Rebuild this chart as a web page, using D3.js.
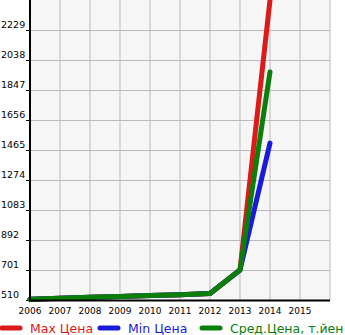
<!DOCTYPE html>
<html>
<head>
<meta charset="utf-8">
<script src="https://cdn.jsdelivr.net/npm/d3@7"></script>
<style>
  body { margin: 0; background: #fff; }
  svg { display: block; font-family: "DejaVu Sans", sans-serif; }
</style>
</head>
<body>
<svg id="chart"></svg>
<script>
// chart size
var width = 345;
var height = 335;
var plotLeft = 30, plotRight = 330, plotTop = 0, plotBottom = 300;

// data
var years = [2006, 2007, 2008, 2009, 2010, 2011, 2012, 2013, 2014];
var maxPrice = [515, 521, 527, 532, 538, 544, 551, 701, 2420];
var minPrice = [515, 521, 527, 532, 538, 544, 551, 701, 1509];
var avgPrice = [515, 521, 527, 532, 538, 544, 551, 701, 1962];
var yTicks = [510, 701, 892, 1083, 1274, 1465, 1656, 1847, 2038, 2229];
var xTicks = [2006, 2007, 2008, 2009, 2010, 2011, 2012, 2013, 2014, 2015];
var legendNames = ['Max Цена', 'Min Цена', 'Сред.Цена, т.йен'];
var colors = ['#dd1a1a', '#1a1add', '#0a800a'];

var x = d3.scaleLinear().domain([2006, 2016]).range([plotLeft, plotRight]);
var y = d3.scaleLinear().domain([510, 2420]).range([plotBottom, plotTop]);

var svg = d3.select('#chart').attr('width', width).attr('height', height);

svg.append('rect')
  .attr('x', plotLeft).attr('y', plotTop)
  .attr('width', plotRight - plotLeft).attr('height', plotBottom - plotTop)
  .attr('fill', '#f6f6f6');

// grid
svg.append('g').selectAll('line')
  .data(d3.range(2007, 2017))
  .enter().append('line')
    .attr('x1', d => x(d)).attr('x2', d => x(d))
    .attr('y1', plotTop).attr('y2', plotBottom)
    .attr('stroke', '#bbb').attr('stroke-width', 1);

svg.append('g').selectAll('line')
  .data(yTicks.slice(1))
  .enter().append('line')
    .attr('x1', plotLeft).attr('x2', plotRight)
    .attr('y1', d => y(d) + 0.5).attr('y2', d => y(d) + 0.5)
    .attr('stroke', '#bbb').attr('stroke-width', 1);

// y labels, sitting above their tick
svg.append('g').selectAll('text')
  .data(yTicks)
  .enter().append('text')
    .attr('x', 1).attr('y', d => y(d) - 2)
    .attr('font-size', 9.5)
    .text(d => d);

svg.append('g').selectAll('line')
  .data(yTicks)
  .enter().append('line')
    .attr('x1', 26).attr('x2', plotLeft)
    .attr('y1', d => y(d) + 0.5).attr('y2', d => y(d) + 0.5)
    .attr('stroke', '#000');

// x labels
svg.append('g').selectAll('text')
  .data(xTicks)
  .enter().append('text')
    .attr('x', d => x(d)).attr('y', 314)
    .attr('text-anchor', 'middle')
    .attr('font-size', 9)
    .text(d => d);

// lines
var line = d3.line()
  .x((d, i) => x(years[i]))
  .y(d => y(d));

[maxPrice, minPrice, avgPrice].forEach(function(s, i) {
  svg.append('path')
    .attr('d', line(s))
    .attr('fill', 'none')
    .attr('stroke', colors[i])
    .attr('stroke-width', 5)
    .attr('stroke-linecap', 'round')
    .attr('stroke-linejoin', 'round');
});

// axes
svg.append('line')
  .attr('x1', plotLeft).attr('x2', plotLeft).attr('y1', 0).attr('y2', plotBottom + 1)
  .attr('stroke', '#000').attr('stroke-width', 2);
svg.append('line')
  .attr('x1', plotLeft - 1).attr('x2', plotRight).attr('y1', plotBottom + 0.5).attr('y2', plotBottom + 0.5)
  .attr('stroke', '#000').attr('stroke-width', 2);

// legend
var legendX = [0, 98, 200];
var lg = svg.append('g').selectAll('g')
  .data(legendNames)
  .enter().append('g')
    .attr('transform', (d, i) => 'translate(' + legendX[i] + ',328)');
lg.append('line')
  .attr('x1', 2).attr('x2', 20).attr('y1', 0).attr('y2', 0)
  .attr('stroke', (d, i) => colors[i])
  .attr('stroke-width', 5)
  .attr('stroke-linecap', 'round');
lg.append('text')
  .attr('x', 30).attr('y', 4.5)
  .attr('font-size', 12.5)
  .attr('fill', (d, i) => colors[i])
  .text(d => d);
</script>
</body>
</html>
